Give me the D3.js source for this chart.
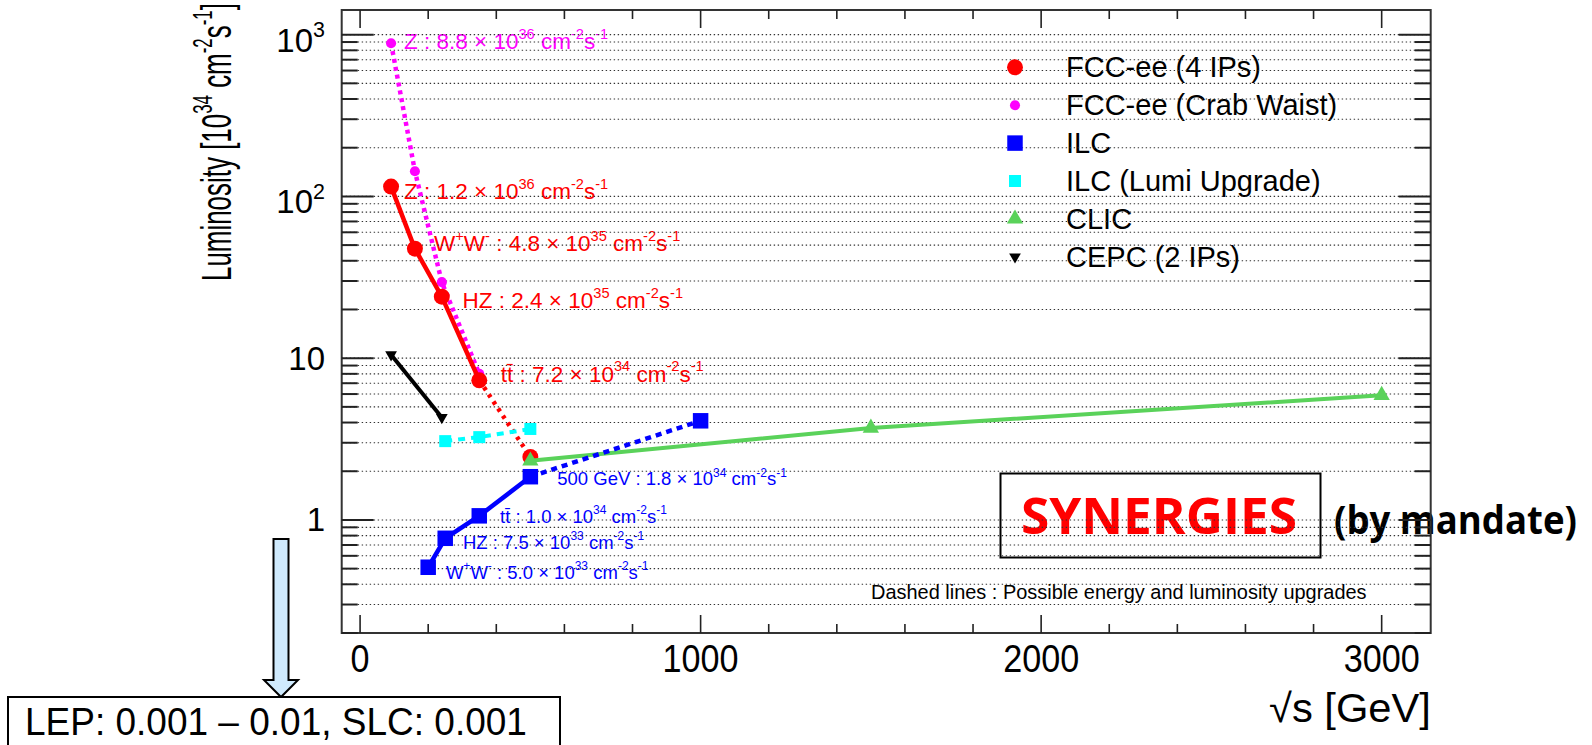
<!DOCTYPE html>
<html>
<head>
<meta charset="utf-8">
<script src="https://cdn.jsdelivr.net/npm/d3@7"></script>
<style>
  body { margin: 0; background: #fff; }
  svg text { font-family: "Liberation Sans", Arial, Helvetica, sans-serif; }
</style>
</head>
<body>
<svg id="chart" width="1592" height="745"></svg>
<script>
// ---- data (sqrt(s) in GeV, luminosity in 10^34 cm^-2 s^-1) ----
const fccE = [91, 161, 240, 350, 500];
const fccL = [115, 47.5, 24, 7.3, 2.45];
const crabE = [91, 161, 240, 350];
const crabL = [885, 143, 29.5, 8.0];
const ilcE = [200, 250, 350, 500, 1000];
const ilcL = [0.51, 0.77, 1.06, 1.85, 4.1];
const lumiE = [250, 350, 500];
const lumiL = [3.07, 3.25, 3.65];
const clicE = [500, 1500, 3000];
const clicL = [2.32, 3.7, 5.9];
const cepcE = [91, 240];
const cepcL = [10.5, 4.3];

// point labels, anchored in data coordinates
const crabTags = ["Z : 8.8 × 10^{36} cm^{-2}s^{-1}"];
const crabTagE = [129];
const crabTagL = [816];
const fccTags = ["Z : 1.2 × 10^{36} cm^{-2}s^{-1}", "W^{+}W^{-} : 4.8 × 10^{35} cm^{-2}s^{-1}",
                 "HZ : 2.4 × 10^{35} cm^{-2}s^{-1}", "tt\u0304 : 7.2 × 10^{34} cm^{-2}s^{-1}"];
const fccTagE = [129, 217, 301, 413];
const fccTagL = [96.5, 46, 20.5, 7.17];
const ilcTags = ["W^{+}W^{-} : 5.0 × 10^{33} cm^{-2}s^{-1}", "HZ : 7.5 × 10^{33} cm^{-2}s^{-1}",
                 "tt\u0304 : 1.0 × 10^{34} cm^{-2}s^{-1}", "500 GeV : 1.8 × 10^{34} cm^{-2}s^{-1}"];
const ilcTagE = [252, 302, 411, 579];
const ilcTagL = [0.4325, 0.663, 0.964, 1.648];

const legendNames = ["FCC-ee (4 IPs)", "FCC-ee (Crab Waist)", "ILC", "ILC (Lumi Upgrade)", "CLIC", "CEPC (2 IPs)"];

const xMajor = [0, 1000, 2000, 3000];
const xMinor = d3.range(200, 3001, 200).filter(v => v % 1000 !== 0);
const xTickText = ["0", "1000", "2000", "3000"];
const yMajor = [1, 10, 100, 1000];
const yTickText = ["1", "10", "10^{2}", "10^{3}"];

// ---- setup ----
const svg = d3.select("#chart");
const frame = { l: 341.7, r: 1430.7, t: 10, b: 633 };

const x = d3.scaleLinear().domain([-54, 3144]).range([frame.l, frame.r]);
const y = d3.scaleLog().domain([0.2, 1420]).range([frame.b, frame.t]);

let yMinor = [];
[0.1, 1, 10, 100, 1000].forEach(d => {
  d3.range(2, 10).forEach(k => {
    const v = k * d;
    if (v >= 0.2 - 1e-9 && v <= 1420) yMinor.push(v);
  });
});

// text with ^{...} superscripts
function rich(t, str, fs) {
  const parts = str.split(/\^\{([^}]*)\}/);
  let shift = 0;
  parts.forEach((p, i) => {
    if (!p) return;
    const sup = i % 2 === 1;
    const target = sup ? -0.45 * fs : 0;
    t.append("tspan")
      .attr("dy", target - shift)
      .attr("font-size", sup ? fs * 0.65 : fs)
      .text(p);
    shift = target;
  });
  return t;
}

// squeeze or stretch a text horizontally so it spans w pixels
function fitWidth(t, w, x0, y0, rot) {
  const bb = t.node().getBBox();
  const s = w / bb.width;
  t.attr("transform", "translate(" + x0 + "," + y0 + ")" + (rot ? " rotate(" + rot + ")" : "") + " scale(" + s + ",1)");
}

const gText = svg.append("g");
const gGrid = svg.append("g");
const gAxes = svg.append("g");
const gData = svg.append("g");

// ---- labels next to the points ----
function drawTags(tags, E, L, color, fs) {
  tags.forEach((s, i) => {
    const t = gText.append("text")
      .attr("x", x(E[i])).attr("y", y(L[i]))
      .attr("fill", color).attr("font-size", fs);
    rich(t, s, fs);
  });
}
drawTags(crabTags, crabTagE, crabTagL, "#ff00ff", 22.5);
drawTags(fccTags, fccTagE, fccTagL, "#ff0000", 22.5);
drawTags(ilcTags, ilcTagE, ilcTagL, "#0000ff", 18.5);

// legend text
const legY0 = 67.3, legDy = 37.9;
legendNames.forEach((n, i) => {
  gText.append("text")
    .attr("x", 1066).attr("y", legY0 + i * legDy + 10)
    .attr("font-size", 29).attr("fill", "#000")
    .text(n);
});

// note at the bottom
const note = gText.append("text").attr("font-size", 19.5).attr("fill", "#000")
  .text("Dashed lines : Possible energy and luminosity upgrades");
fitWidth(note, 496, 871, 599);

// SYNERGIES box
gText.append("rect")
  .attr("x", 1000.5).attr("y", 473.5).attr("width", 320).attr("height", 84)
  .attr("fill", "none").attr("stroke", "#000").attr("stroke-width", 2);
const syn = gText.append("text")
  .style("font-family", "'Open Sans', 'DejaVu Sans', sans-serif")
  .attr("font-weight", 700).attr("font-size", 50).attr("fill", "#ff0000")
  .text("SYNERGIES");
fitWidth(syn, 276, 1021, 534);
const mand = gText.append("text")
  .style("font-family", "'Open Sans', 'DejaVu Sans', sans-serif")
  .attr("font-weight", 700).attr("font-size", 40).attr("fill", "#000")
  .text("(by mandate)");
fitWidth(mand, 243, 1334, 534);

// ---- grid (dotted, at every y tick) ----
gGrid.selectAll("line.grid")
  .data(yMajor.concat(yMinor))
  .enter().append("line")
  .attr("x1", frame.l).attr("x2", frame.r)
  .attr("y1", d => y(d)).attr("y2", d => y(d))
  .attr("stroke", "#333").attr("stroke-width", 1.1)
  .attr("stroke-dasharray", "1.4,2.6");

// ---- frame and ticks ----
gAxes.append("rect")
  .attr("x", frame.l).attr("y", frame.t)
  .attr("width", frame.r - frame.l).attr("height", frame.b - frame.t)
  .attr("fill", "none").attr("stroke", "#333").attr("stroke-width", 2);

function yTicks(vals, len) {
  vals.forEach(v => {
    gAxes.append("line").attr("x1", frame.l).attr("x2", frame.l + len)
      .attr("y1", y(v)).attr("y2", y(v)).attr("stroke", "#222").attr("stroke-width", 2);
    gAxes.append("line").attr("x1", frame.r).attr("x2", frame.r - len)
      .attr("y1", y(v)).attr("y2", y(v)).attr("stroke", "#222").attr("stroke-width", 2);
  });
}
yTicks(yMajor, 32);
yTicks(yMinor, 16);

function xTicks(vals, len) {
  vals.forEach(v => {
    gAxes.append("line").attr("x1", x(v)).attr("x2", x(v))
      .attr("y1", frame.b).attr("y2", frame.b - len).attr("stroke", "#222").attr("stroke-width", 1.6);
    gAxes.append("line").attr("x1", x(v)).attr("x2", x(v))
      .attr("y1", frame.t).attr("y2", frame.t + len).attr("stroke", "#222").attr("stroke-width", 1.6);
  });
}
xTicks(xMajor, 18);
xTicks(xMinor, 9);

// tick labels
xMajor.forEach((v, i) => {
  const t = gAxes.append("text")
    .attr("text-anchor", "middle").attr("font-size", 38)
    .text(xTickText[i]);
  const w = 19 * xTickText[i].length;
  const bb = t.node().getBBox();
  t.attr("transform", "translate(" + x(v) + ",672) scale(" + (w / bb.width) + ",1)");
});
yMajor.forEach((v, i) => {
  const sup = yTickText[i].indexOf("^") >= 0;
  const t = gAxes.append("text")
    .attr("x", 325).attr("y", y(v) + (sup ? 17 : 11.5))
    .attr("text-anchor", "end").attr("font-size", 33);
  rich(t, yTickText[i], 33);
});

// axis titles
const xt = gAxes.append("text").attr("font-size", 40).attr("text-anchor", "start");
xt.append("tspan").text("\u221As [GeV]");
fitWidth(xt, 162, 1269, 722);

const yt = gAxes.append("text").attr("font-size", 42);
rich(yt, "Luminosity [10^{34} cm^{-2}s^{-1}]", 42);
fitWidth(yt, 278, 231, 281, -90);

// ---- data ----
const line = d3.line().x(d => x(d[0])).y(d => y(d[1]));

const series = [
  { E: crabE, L: crabL, color: "#ff00ff", w: 4.5, solidTo: 0, dash: "4,4", sym: d3.symbolCircle, size: 80, rot: 0 },
  { E: fccE, L: fccL, color: "#ff0000", w: 4.5, solidTo: 3, dash: "3.5,5", sym: d3.symbolCircle, size: 200, rot: 0 },
  { E: clicE, L: clicL, color: "#5ad25a", w: 4, solidTo: 2, dash: "6,5", sym: d3.symbolTriangle, size: 115, rot: 0 },
  { E: ilcE, L: ilcL, color: "#0000ff", w: 4.5, solidTo: 3, dash: "6,5", sym: d3.symbolSquare, size: 240, rot: 0 },
  { E: lumiE, L: lumiL, color: "#00ffff", w: 4, solidTo: 0, dash: "7,6", sym: d3.symbolSquare, size: 144, rot: 0 },
  { E: cepcE, L: cepcL, color: "#000000", w: 4, solidTo: 1, dash: "6,5", sym: d3.symbolTriangle, size: 60, rot: 180 }
];

series.forEach(s => {
  const pts = d3.zip(s.E, s.L);
  if (s.solidTo > 0) {
    gData.append("path").attr("d", line(pts.slice(0, s.solidTo + 1)))
      .attr("fill", "none").attr("stroke", s.color).attr("stroke-width", s.w);
  }
  if (s.solidTo < pts.length - 1) {
    gData.append("path").attr("d", line(pts.slice(s.solidTo)))
      .attr("fill", "none").attr("stroke", s.color).attr("stroke-width", s.w)
      .attr("stroke-dasharray", s.dash);
  }
  gData.selectAll(null).data(pts).enter().append("path")
    .attr("d", d3.symbol(s.sym, s.size)())
    .attr("transform", d => "translate(" + x(d[0]) + "," + y(d[1]) + ") rotate(" + s.rot + ")")
    .attr("fill", s.color);
});

// legend markers (same symbols)
const legendOrder = [1, 0, 3, 4, 2, 5];
legendOrder.forEach((k, i) => {
  const s = series[k];
  gData.append("path")
    .attr("d", d3.symbol(s.sym, s.size)())
    .attr("transform", "translate(1015," + (legY0 + i * legDy) + ") rotate(" + s.rot + ")")
    .attr("fill", s.color);
});

// ---- LEP / SLC note with arrow ----
svg.append("path")
  .attr("d", "M273.5,539 L288.5,539 L288.5,680 L298,680 L281,697 L264,680 L273.5,680 Z")
  .attr("fill", "#cfeafd").attr("stroke", "#000").attr("stroke-width", 2);
svg.append("rect")
  .attr("x", 8).attr("y", 697).attr("width", 552).attr("height", 60)
  .attr("fill", "#fff").attr("stroke", "#000").attr("stroke-width", 2);
const lep = svg.append("text").attr("font-size", 38).attr("fill", "#000")
  .text("LEP: 0.001 \u2013 0.01, SLC: 0.001");
fitWidth(lep, 502, 25, 735);
</script>
</body>
</html>
